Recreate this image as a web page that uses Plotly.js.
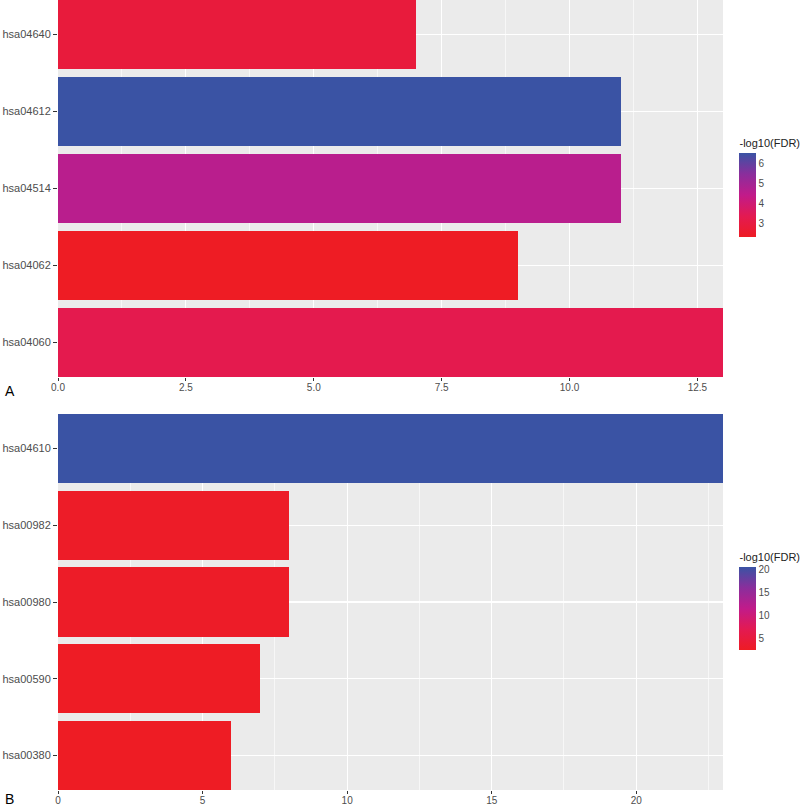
<!DOCTYPE html>
<html>
<head>
<meta charset="utf-8">
<script src="https://cdn.plot.ly/plotly-3.0.1.min.js"></script>
<style>html,body{margin:0;padding:0;background:#fff;}#chart{width:800px;height:807px;}</style>
</head>
<body>
<div id="chart"></div>
<script>
// Panel A (listed bottom to top)
const pathwaysA = ["hsa04060", "hsa04062", "hsa04514", "hsa04612", "hsa04640"];
const countsA = [13, 9, 11, 11, 7];
const log10FdrA = [3.3, 2.34, 4.6, 6.55, 2.9];
// Panel B (listed bottom to top)
const pathwaysB = ["hsa00380", "hsa00590", "hsa00980", "hsa00982", "hsa04610"];
const countsB = [6, 7, 8, 8, 23];
const log10FdrB = [2.6, 2.7, 3.0, 3.0, 20.56];

const colorTicksA = [3, 4, 5, 6];
const colorTicksB = [5, 10, 15, 20];
const xTicksA = [0, 2.5, 5, 7.5, 10, 12.5];
const xTicksB = [0, 5, 10, 15, 20];

const W = 800, H = 807;
const M = {l: 58, r: 76.5, t: 0, b: 17};
const PW = W - M.l - M.r, PH = H - M.t - M.b;
const px2x = p => (p - M.l) / PW;
const py2y = p => 1 - (p - M.t) / PH;

const scale = [
  [0, '#EE1C24'],
  [0.25, '#E31A52'],
  [0.5, '#C11B8A'],
  [0.75, '#8A2E9C'],
  [1, '#3A53A4']
];

function cbar(ticks, topPx, botPx) {
  return {
    title: {text: '-log10(FDR)', side: 'top', font: {family: 'Liberation Sans, Arial', size: 11, color: '#222'}},
    thickness: 17, thicknessmode: 'pixels',
    len: botPx - topPx, lenmode: 'pixels',
    x: px2x(740), xanchor: 'left',
    y: py2y(topPx), yanchor: 'top',
    xpad: 0, ypad: 0, outlinewidth: 0,
    tickvals: ticks, ticks: '',
    tickfont: {family: 'Liberation Sans, Arial', size: 10, color: '#4D4D4D'}
  };
}

const traces = [
  {
    type: 'bar', orientation: 'h', x: countsA, y: pathwaysA, width: 0.9,
    xaxis: 'x', yaxis: 'y',
    marker: {color: log10FdrA, colorscale: scale, showscale: true, line: {width: 0},
             colorbar: cbar(colorTicksA, 136, 237)},
    hoverinfo: 'x+y'
  },
  {
    type: 'bar', orientation: 'h', x: countsB, y: pathwaysB, width: 0.9,
    xaxis: 'x2', yaxis: 'y2',
    marker: {color: log10FdrB, colorscale: scale, showscale: true, line: {width: 0},
             colorbar: cbar(colorTicksB, 550, 650)},
    hoverinfo: 'x+y'
  }
];

const tickFont = {family: 'Liberation Sans, Arial', size: 11, color: '#4D4D4D'};
function xax(range, ticks, minorDt, anchor, fmt) {
  return {
    domain: [0, 1], anchor: anchor, range: range,
    tickvals: ticks, tickformat: fmt,
    showgrid: true, gridcolor: '#FFFFFF', gridwidth: 1.2,
    minor: {dtick: minorDt, tick0: 0, showgrid: true, gridcolor: '#FFFFFF', gridwidth: 0.6},
    zeroline: false, showline: false,
    ticks: 'outside', ticklen: 3, tickcolor: '#333', tickwidth: 1,
    ticklabelstandoff: -2,
    tickfont: {family: 'Liberation Sans, Arial', size: 10, color: '#4D4D4D'},
    fixedrange: true
  };
}
function yax(cats, domain, anchor) {
  return {
    domain: domain, anchor: anchor, type: 'category',
    categoryorder: 'array', categoryarray: cats,
    range: [-0.45, cats.length - 0.55],
    showgrid: true, gridcolor: '#FFFFFF', gridwidth: 1.2,
    zeroline: false, showline: false,
    ticks: 'outside', ticklen: 4, tickcolor: '#333', tickwidth: 1,
    tickfont: tickFont, fixedrange: true
  };
}

const layout = {
  width: W, height: H, margin: M,
  paper_bgcolor: '#FFFFFF', plot_bgcolor: '#EBEBEB',
  showlegend: false, bargap: 0,
  xaxis: xax([0, 13], xTicksA, 1.25, 'y', '.1f'),
  yaxis: yax(pathwaysA, [py2y(377), 1], 'x'),
  xaxis2: xax([0, 23], xTicksB, 2.5, 'y2', 'd'),
  yaxis2: yax(pathwaysB, [0, py2y(414)], 'x2'),
  annotations: [
    {text: 'A', x: px2x(3), y: py2y(391), xref: 'paper', yref: 'paper', xanchor: 'left', yanchor: 'middle',
     showarrow: false, font: {family: 'Liberation Sans, Arial', size: 14, color: '#000'}},
    {text: 'B', x: px2x(3), y: py2y(799), xref: 'paper', yref: 'paper', xanchor: 'left', yanchor: 'middle',
     showarrow: false, font: {family: 'Liberation Sans, Arial', size: 14, color: '#000'}}
  ]
};

Plotly.newPlot('chart', traces, layout, {displayModeBar: false, staticPlot: true});
</script>
</body>
</html>
